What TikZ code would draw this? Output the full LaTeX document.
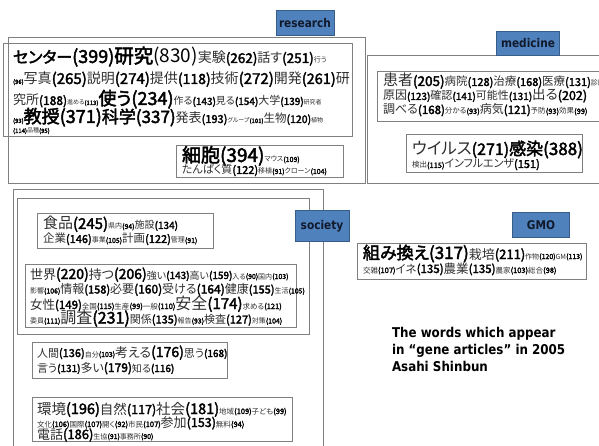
\documentclass[tikz,border=0pt]{standalone}
\usepackage{fontspec}
\setmainfont{Noto Sans CJK JP}[RawFeature=+palt,AutoFakeBold=2.5]
\newfontfamily\capfont{DejaVu Sans}[FakeStretch=0.88]
\definecolor{labfill}{HTML}{4F81BD}
\definecolor{labdraw}{HTML}{385D8A}
\definecolor{labtext}{HTML}{111A2C}
\definecolor{boxline}{HTML}{808080}
\definecolor{wordcol}{HTML}{303030}
\newcommand\tw[2]{{\fontsize{#1pt}{#1pt}\selectfont\color{wordcol}#2}}
\newcommand\tb[2]{{\fontsize{#1pt}{#1pt}\selectfont\bfseries #2}}
\newcommand\tn[2]{{\fontsize{#1pt}{#1pt}\selectfont\bfseries(#2)}}
\begin{document}
\begin{tikzpicture}[x=1pt,y=-1pt,
  txt/.style={anchor=base west,inner sep=0pt,outer sep=0pt},
  box/.style={draw=boxline,line width=0.8pt},
  lab/.style={draw=labdraw,fill=labfill,line width=0.8pt,text=labtext,
    font=\capfont\bfseries\fontsize{12pt}{12pt}\selectfont,inner sep=0pt}]
\useasboundingbox (0,0) rectangle (599,446);
\clip (0,0) rectangle (599,446);
\fill[white] (0,0) rectangle (599,446);
% ---------- research ----------
\draw[box] (8,37) rectangle (365,183);
\draw[box] (3,43) rectangle (352,136);
\draw[box] (176,145) rectangle (343,177);
\node[lab,minimum width=58pt,minimum height=25pt] (research) at (305,23) {research};
\node[txt] (r1) at (13,63) {\tb{16}{センター}\tn{18}{399}\tb{19.5}{研究}{\fontsize{19pt}{19pt}\selectfont(830)}\tw{14}{実験}\tn{13.5}{262}\tw{13}{話す}\tn{13.5}{251}\tw{7}{行う}};
\node[txt] (r2) at (13,84) {\tn{6}{96}\tw{14}{写真}\tn{15}{265}\tw{14}{説明}\tn{15}{274}\tw{14}{提供}\tn{14}{118}\tw{14}{技術}\tn{15}{272}\tw{14}{開発}\tn{14.5}{261}\tw{14}{研}};
\node[txt] (r3) at (13,105) {\tw{13}{究所}\tn{12}{188}\tw{6}{進める}\tn{6}{113}\tb{18}{使う}\tn{18}{234}\tw{10}{作る}\tn{10}{143}\tw{10}{見る}\tn{10}{154}\tw{11}{大学}\tn{10}{139}\tw{6}{研究者}};
\node[txt] (r4) at (13,123) {\tn{6}{93}\tb{18}{教授}\tn{18}{371}\tb{17}{科学}\tn{17}{337}\tw{13}{発表}\tn{11}{193}\tw{6}{グループ}\tn{6}{101}\tw{11.5}{生物}\tn{10.5}{120}\tw{6}{植物}};
\node[txt] (r5) at (13,133) {\tn{6}{114}\tw{6}{品種}\tn{6}{95}};
\node[txt] (c1) at (182,162) {\tb{19}{細胞}\tn{19}{394}\tw{7}{マウス}\tn{7}{109}};
\node[txt] (c2) at (182,174) {\tw{11}{たんぱく質}\tn{11}{122}\tw{7}{移植}\tn{7}{91}\tw{7}{クローン}\tn{7}{104}};
% ---------- medicine ----------
\draw[box] (367,55) rectangle (620,183);
\draw[box] (377,71) rectangle (610,121);
\draw[box] (406,134) rectangle (582,172);
\node[lab,minimum width=63pt,minimum height=24pt] (medicine) at (528,43) {medicine};
\node[txt] (m1) at (383,86) {\tw{15}{患者}\tn{13.5}{205}\tw{11.5}{病院}\tn{11}{128}\tw{11.5}{治療}\tn{11}{168}\tw{11.5}{医療}\tn{11}{131}\tw{7}{診断}\tn{7}{98}};
\node[txt] (m2) at (383,100) {\tw{12}{原因}\tn{10}{123}\tw{11}{確認}\tn{10}{141}\tw{11}{可能性}\tn{10}{131}\tw{13.5}{出る}\tn{12.5}{202}};
\node[txt] (m3) at (383,114) {\tw{12}{調べる}\tn{11.5}{168}\tw{7.5}{分かる}\tn{7.5}{93}\tw{12}{病気}\tn{11.5}{121}\tw{7.5}{予防}\tn{7.5}{93}\tw{7.5}{効果}\tn{7.5}{99}};
\node[txt] (v1) at (412,155) {\tw{16.5}{ウイルス}\tn{16}{271}\tb{17}{感染}\tn{17}{388}};
\node[txt] (v2) at (412,168) {\tw{7.5}{検出}\tn{7.5}{115}\tw{11}{インフルエンザ}\tn{11}{151}};
% ---------- society ----------
\draw[box] (13,189) rectangle (323,460);
\draw[box] (17,198) rectangle (309,334);
\draw[box] (37,213) rectangle (213,248);
\draw[box] (25,264) rectangle (296,327);
\draw[box] (32,342) rectangle (227,378);
\draw[box] (32,397) rectangle (292,441);
\node[lab,minimum width=54pt,minimum height=31pt] (society) at (322,226) {society};
\node[txt] (f1) at (43,229) {\tw{15}{食品}\tn{15}{245}\tw{7}{県内}\tn{7}{94}\tw{10}{施設}\tn{10}{134}};
\node[txt] (f2) at (43,243) {\tw{11.5}{企業}\tn{11}{146}\tw{7}{事業}\tn{7}{105}\tw{11.5}{計画}\tn{11}{122}\tw{7}{管理}\tn{7}{91}};
\node[txt] (s1) at (30,279) {\tw{13}{世界}\tn{14}{220}\tw{13}{持つ}\tn{14}{206}\tw{10}{強い}\tn{10}{143}\tw{10}{高い}\tn{10}{159}\tw{7}{入る}\tn{7}{90}\tw{7}{国内}\tn{7}{103}};
\node[txt] (s2) at (30,293.5) {\tw{7}{影響}\tn{7}{106}\tw{12}{情報}\tn{11}{158}\tw{12}{必要}\tn{12}{160}\tw{12}{受ける}\tn{12}{164}\tw{12}{健康}\tn{11}{155}\tw{7}{生活}\tn{7}{105}};
\node[txt] (s3) at (30,309) {\tw{12.5}{女性}\tn{11.5}{149}\tw{7.5}{全国}\tn{7.5}{115}\tw{7.5}{生産}\tn{7.5}{99}\tw{7.5}{一般}\tn{7.5}{110}\tw{16}{安全}\tn{15}{174}\tw{7.5}{求める}\tn{7.5}{121}};
\node[txt] (s4) at (30,323.5) {\tw{7}{委員}\tn{7}{111}\tw{16}{調査}\tn{16}{231}\tw{11}{関係}\tn{11}{135}\tw{7}{報告}\tn{7}{93}\tw{11}{検査}\tn{11}{127}\tw{7}{対策}\tn{7}{104}};
\node[txt] (h1) at (37,357) {\tw{11}{人間}\tn{11}{136}\tw{7}{自分}\tn{7}{103}\tw{13}{考える}\tn{14}{176}\tw{11}{思う}\tn{10}{168}};
\node[txt] (h2) at (37,372) {\tw{11}{言う}\tn{10}{131}\tw{12}{多い}\tn{12}{179}\tw{10}{知る}\tn{10}{116}};
\node[txt] (e1) at (37,414) {\tw{14.5}{環境}\tn{14.5}{196}\tw{13.5}{自然}\tn{12.5}{117}\tw{14.5}{社会}\tn{14.5}{181}\tw{7.5}{地域}\tn{7.5}{109}\tw{7.5}{子ども}\tn{7.5}{99}};
\node[txt] (e2) at (37,427) {\tw{7.5}{文化}\tn{7.5}{106}\tw{7.5}{国際}\tn{7.5}{107}\tw{7.5}{開く}\tn{7.5}{92}\tw{7.5}{市民}\tn{7.5}{107}\tw{13}{参加}\tn{12.5}{153}\tw{7.5}{無料}\tn{7.5}{94}};
\node[txt] (e3) at (37,439) {\tw{13}{電話}\tn{13}{186}\tw{7}{生協}\tn{7}{91}\tw{7}{事務所}\tn{7}{90}};
% ---------- GMO ----------
\draw[box] (357,243) rectangle (586,279);
\node[lab,minimum width=57pt,minimum height=25pt] (gmo) at (541,225) {GMO};
\node[txt] (g1) at (363,259) {\tb{17}{組み換え}\tn{17}{317}\tw{13}{栽培}\tn{13}{211}\tw{7}{作物}\tn{7}{120}\tw{7}{GM}\tn{7}{113}};
\node[txt] (g2) at (363,273) {\tw{7.5}{交雑}\tn{7.5}{107}\tw{11.5}{イネ}\tn{11.5}{135}\tw{12.5}{農業}\tn{11.5}{135}\tw{7.5}{農家}\tn{7.5}{103}\tw{7.5}{総合}\tn{7.5}{98}};
% ---------- caption ----------
\node[txt,font=\capfont\bfseries\fontsize{13.5pt}{17pt}\selectfont,align=left,anchor=north west] (cap) at (392,327)
  {The words which appear\\in “gene articles” in 2005\\Asahi Shinbun};
\end{tikzpicture}
\end{document}
